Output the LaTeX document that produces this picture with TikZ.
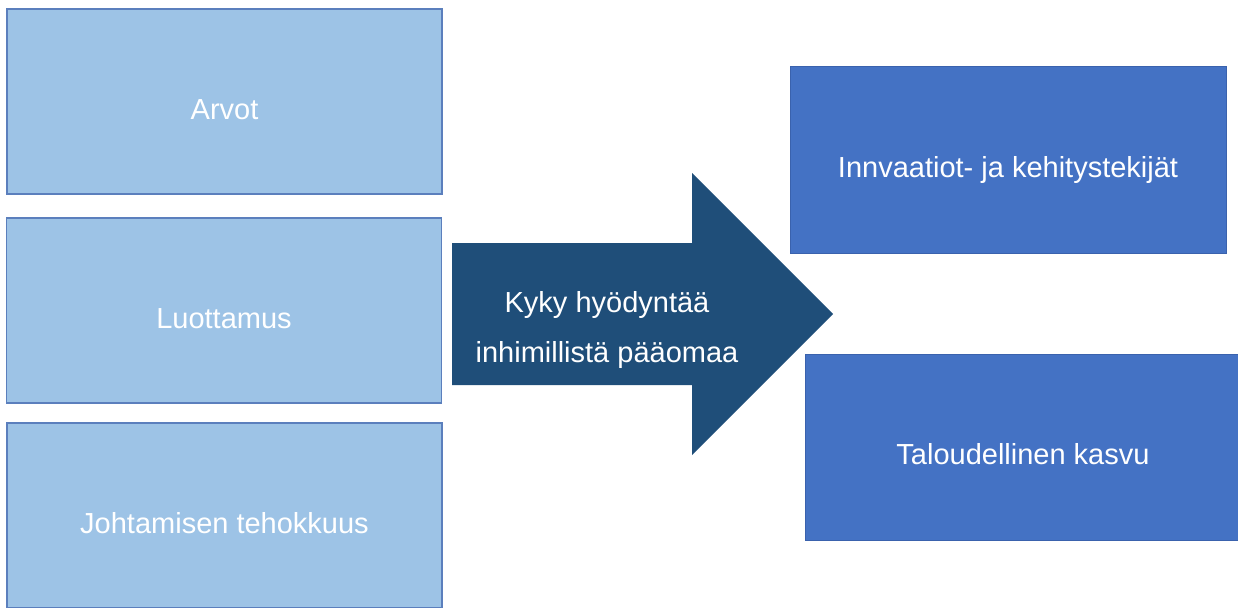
\documentclass[tikz,border=0pt]{standalone}
\usepackage{fontspec}
\setmainfont{Liberation Sans}
\definecolor{lightfill}{HTML}{9DC3E6}
\definecolor{lightedge}{HTML}{5B7FBD}
\definecolor{darkfill}{HTML}{4472C4}
\definecolor{darkedge}{HTML}{3A62AD}
\definecolor{arrowfill}{HTML}{1F4E79}
\tikzset{
    lightbox/.style={draw=lightedge, line width=1.2pt, fill=lightfill, text=white,
        minimum width=435pt, minimum height=185pt, inner sep=0pt,
        text height=35pt, text depth=0pt, font=\fontsize{29}{35}\selectfont},
    darkbox/.style={draw=darkedge, line width=1pt, fill=darkfill, text=white,
        minimum width=436pt, minimum height=186pt, inner sep=0pt,
        text height=35pt, text depth=0pt, font=\fontsize{29}{35}\selectfont},
    arrowtxt/.style={text=white, align=center, inner sep=0pt,
        font=\fontsize{29}{50}\selectfont}
}
\begin{document}
\begin{tikzpicture}[x=1pt, y=-1pt]
    \useasboundingbox (0,0) rectangle (1238,607);
    % left column
    \node[lightbox] (arvot) at (224.5,101.5) {Arvot};
    \node[lightbox] (luottamus) at (224,310.5) {Luottamus};
    \node[lightbox] (johtaminen) at (224.5,515.5) {Johtamisen tehokkuus};
    % big arrow in the middle
    \fill[arrowfill] (452,243) -- (692,243) -- (692,173) -- (833,314)
        -- (692,455) -- (692,385) -- (452,385) -- cycle;
    \node[arrowtxt] (kyky) at (607,330) {Kyky hyödyntää\\inhimillistä pääomaa};
    % right column
    \node[darkbox] (innovaatiot) at (1008,160) {Innvaatiot- ja kehitystekijät};
    \node[darkbox] (kasvu) at (1023,447) {Taloudellinen kasvu};
\end{tikzpicture}
\end{document}
